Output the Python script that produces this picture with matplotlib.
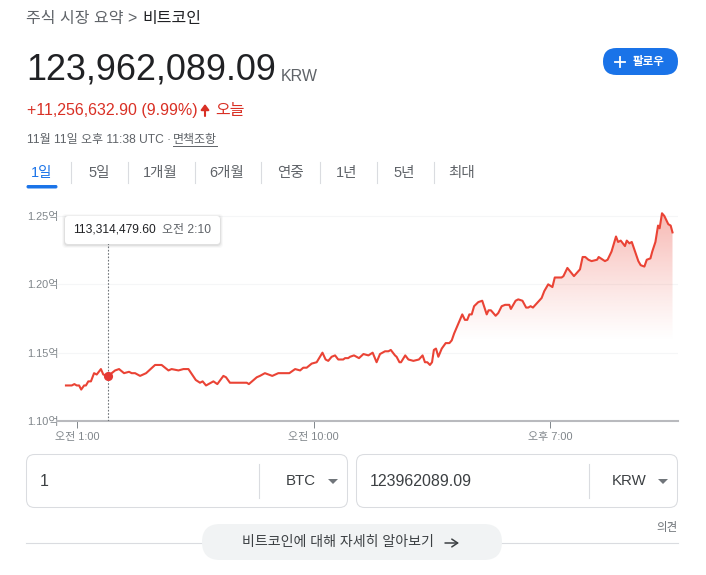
import numpy as np
import matplotlib
matplotlib.use("Agg")
import matplotlib.pyplot as plt
from matplotlib.patches import FancyBboxPatch, Rectangle, Polygon, Circle

plt.rcParams['font.family'] = ['Liberation Sans', 'Noto Sans CJK KR', 'DejaVu Sans']

hours = [0.58,0.80,0.90,0.99,1.08,1.16,1.27,1.34,1.43,1.53,1.65,1.75,1.91,2.00,2.17,2.32,2.45,2.60,2.79,2.98,
3.08,3.21,3.40,3.63,3.97,4.22,4.48,4.60,4.86,5.05,5.24,5.52,5.68,5.78,5.91,6.19,6.34,6.57,6.67,6.82,
6.95,7.46,7.54,7.84,7.96,8.15,8.43,8.66,8.79,9.08,9.30,9.49,9.61,9.74,9.93,10.12,10.34,10.46,10.56,10.69,
10.82,10.94,11.13,11.20,11.32,11.39,11.54,11.73,11.90,12.09,12.25,12.40,12.53,12.72,12.85,12.94,13.10,13.16,13.27,13.33,
13.49,13.61,13.80,14.01,14.15,14.24,14.33,14.43,14.51,14.58,14.66,14.75,14.88,15.03,15.17,15.26,15.35,15.66,15.76,15.85,
15.93,16.02,16.11,16.27,16.42,16.59,16.66,16.75,16.93,17.03,17.16,17.29,17.45,17.51,17.69,17.79,17.95,18.09,18.17,18.26,
18.35,18.68,18.78,18.93,19.09,19.18,19.44,19.51,19.66,19.91,20.14,20.24,20.34,20.46,20.58,20.79,20.85,21.09,21.19,21.34,
21.51,21.59,21.69,21.85,21.92,22.02,22.11,22.36,22.45,22.59,22.68,22.82,22.89,23.01,23.11,23.17,23.26,23.35,23.50,23.59,23.66]
prices = [1.126,1.126,1.127,1.126,1.126,1.123,1.126,1.126,1.129,1.129,1.135,1.134,1.138,1.134,1.133,1.135,1.137,1.138,1.135,1.136,
1.135,1.135,1.133,1.135,1.141,1.141,1.137,1.138,1.137,1.138,1.138,1.130,1.128,1.129,1.126,1.129,1.127,1.133,1.132,1.128,
1.128,1.128,1.127,1.132,1.133,1.135,1.133,1.135,1.135,1.135,1.138,1.137,1.139,1.139,1.142,1.143,1.150,1.145,1.144,1.147,
1.148,1.145,1.145,1.146,1.146,1.147,1.148,1.146,1.149,1.148,1.150,1.143,1.149,1.151,1.151,1.152,1.148,1.147,1.143,1.143,
1.148,1.145,1.144,1.145,1.148,1.143,1.143,1.141,1.143,1.152,1.153,1.147,1.153,1.157,1.157,1.159,1.164,1.178,1.174,1.174,
1.178,1.178,1.184,1.187,1.188,1.178,1.181,1.181,1.177,1.179,1.184,1.185,1.185,1.182,1.188,1.189,1.188,1.183,1.183,1.184,
1.183,1.190,1.195,1.200,1.198,1.205,1.205,1.206,1.212,1.206,1.211,1.220,1.220,1.218,1.217,1.218,1.220,1.217,1.218,1.224,
1.235,1.231,1.232,1.228,1.232,1.230,1.231,1.217,1.214,1.213,1.218,1.219,1.224,1.231,1.243,1.241,1.252,1.250,1.244,1.243,1.238]
y_ticks = [1.10, 1.15, 1.20, 1.25]
y_labels = ["1.10억", "1.15억", "1.20억", "1.25억"]
x_ticks = [1, 10, 19]
x_labels = ["오전 1:00", "오전 10:00", "오후 7:00"]
hover_hour, hover_price = 2.17, 1.133
tabs = ["1일", "5일", "1개월", "6개월", "연중", "1년", "5년", "최대"]

W, H = 706, 575
RED = "#ea4335"
GREY = "#5f6368"
AXIS = "#80868b"
fig = plt.figure(figsize=(W / 100, H / 100), dpi=100, facecolor="white")

def px(s):
    return s * 0.72

# chart axes: px x 26..678, y 205..421
ax = fig.add_axes([26 / W, 1 - 421 / H, 652 / W, 216 / H])
ax.set_xlim(1 + (26 - 77) / 26.28, 1 + (678 - 77) / 26.28)
ax.set_ylim(1.10, 1.25 + 11 / 1366.7)
for s in ax.spines.values():
    s.set_visible(False)
ax.patch.set_alpha(0)
frac = (57 - 26) / 652
for y in y_ticks[1:]:
    ax.axhline(y, xmin=frac, color="#f5f6f7", lw=0.8, zorder=1)
ax.axhline(1.10, xmin=frac, color="#b9babe", lw=1.5, zorder=3, clip_on=False)

# area gradient under the line
grad = np.zeros((256, 2, 4))
rgb = matplotlib.colors.to_rgb(RED)
grad[..., 0], grad[..., 1], grad[..., 2] = rgb
a = np.clip((np.linspace(1.253, 1.10, 256) - 1.158) / (1.253 - 1.158), 0, 1)
grad[..., 3] = (a[:, None] ** 1.15) * 0.38
im = ax.imshow(grad, extent=[hours[0], hours[-1], 1.10, 1.253], aspect="auto", zorder=2, interpolation="bilinear")
poly = Polygon(list(zip(hours, prices)) + [(hours[-1], 1.10), (hours[0], 1.10)], closed=True,
               transform=ax.transData, fc="none", ec="none")
ax.add_patch(poly)
im.set_clip_path(poly)
ax.set_xlim(1 + (26 - 77) / 26.28, 1 + (678 - 77) / 26.28)
ax.set_ylim(1.10, 1.25 + 11 / 1366.7)

ax.plot(hours, prices, color=RED, lw=1.5, zorder=4, solid_joinstyle="round")
ax.plot([hover_hour, hover_hour], [1.10, 1.25], color="#70757a", lw=0.8, ls=(0, (1.5, 1.5)), zorder=3)
ax.plot([hover_hour], [hover_price], "o", color="#e53935", ms=6.6, mew=0, zorder=5)

ax.set_xticks(x_ticks)
ax.set_xticklabels(x_labels, fontsize=px(11), color=AXIS)
ax.tick_params(axis="x", length=5, width=0.7, color="#80868b", pad=3.2, direction="out")
ax.set_yticks(y_ticks)
ax.set_yticklabels(y_labels, fontsize=px(11), color=AXIS, ha="left")
ax.tick_params(axis="y", length=0, pad=-0.5)

# UI overlay in pixel coordinates
ui = fig.add_axes([0, 0, 1, 1], zorder=5)
ui.set_xlim(0, W)
ui.set_ylim(H, 0)
ui.axis("off")
ui.patch.set_alpha(0)

def T(x, y, s, size, color="#202124", ha="left", va="center", **kw):
    return ui.text(x, y, s, fontsize=px(size), color=color, ha=ha, va=va, **kw)

def box(x0, y0, x1, y1, r, fc="white", ec="none", lw=0.75, z=1):
    p = FancyBboxPatch((x0 + r, y0 + r), x1 - x0 - 2 * r, y1 - y0 - 2 * r,
                       boxstyle=f"round,pad={r},rounding_size={r}", fc=fc, ec=ec, lw=lw, zorder=z)
    ui.add_patch(p)
    return p

T(26, 19, "주식 시장 요약 >", 16, "#5f6368")
T(142, 19, "비트코인", 16, "#202124")
T(26.5, 69.5, "123,962,089.09", 36, "#202124")
T(281, 76.5, "KRW", 16, "#5f6368")
T(27, 110, "+11,256,632.90 (9.99%)", 16, "#d93025")
ui.annotate("", xy=(205, 104), xytext=(205, 116),
            arrowprops=dict(arrowstyle="-|>,head_width=0.24,head_length=0.32", color="#d93025", lw=1.5, shrinkA=0, shrinkB=0))
T(215, 110, "오늘", 16, "#d93025")
T(27, 139.5, "11월 11일 오후 11:38 UTC ·", 12, "#5f6368")
T(173, 139.5, "면책조항", 12, "#5f6368")
ui.plot([173, 217], [146, 146], color="#5f6368", lw=0.7)

# follow button
box(603, 48, 678, 75, 13.5, fc="#1a73e8")
ui.plot([615, 625], [61.5, 61.5], color="white", lw=1.3)
ui.plot([620, 620], [56.5, 66.5], color="white", lw=1.3)
T(633, 61.5, "팔로우", 11.5, "white", fontweight="bold")

# tabs
tab_x = [42, 99, 160, 227, 290, 347, 404, 462]
for i, (x, t) in enumerate(zip(tab_x, tabs)):
    T(x, 172.5, t, 14.5, "#1a73e8" if i == 0 else "#5f6368", ha="center")
for x in [70.5, 127.5, 194.5, 260.5, 319.5, 376.5, 433.5]:
    ui.plot([x, x], [162, 183], color="#dadce0", lw=0.8)
ui.add_patch(FancyBboxPatch((27, 185.5), 30, 2.5, boxstyle="round,pad=0,rounding_size=1.2", fc="#1a73e8", ec="#1a73e8", lw=0.7))

# tooltip
for d, al in [(3, 0.025), (2, 0.04), (1, 0.06)]:
    box(65 - d, 216 - d + 1, 220 + d, 244 + d + 1, 4, fc=(0, 0, 0, al), z=2)
box(65, 216, 220, 244, 3, fc="white", z=3)
t1 = T(73.5, 230, "113,314,479.60", 12, "#202124", zorder=4)
t2 = T(162, 230, "오전 2:10", 12, "#5f6368", zorder=4)

# converter boxes
box(26.5, 454.5, 347.5, 507.5, 8, fc="white", ec="#dadce0")
box(356.5, 454.5, 677.5, 507.5, 8, fc="white", ec="#dadce0")
T(40, 481, "1", 16, "#3c4043")
T(370, 481, "123962089.09", 16, "#3c4043")
T(286, 481, "BTC", 15, "#3c4043")
T(612, 481, "KRW", 15, "#3c4043")
for x in [258.5, 588.5]:
    ui.plot([x, x], [464, 498], color="#dadce0", lw=0.8)
for x in [333, 663]:
    ui.add_patch(Polygon([(x - 5, 479), (x + 5, 479), (x, 484)], closed=True, fc="#70757a", ec="none"))

T(678, 527, "의견", 11.5, "#70757a", ha="right")
ui.plot([26, 678], [542.5, 542.5], color="#dadce0", lw=0.8, zorder=1)
box(202, 524, 502, 560, 18, fc="#f1f3f4", z=2)
T(242, 542, "비트코인에 대해 자세히 알아보기", 14, "#3c4043", zorder=3)
ui.annotate("", xy=(459, 543), xytext=(445, 543), zorder=3,
            arrowprops=dict(arrowstyle="->,head_width=0.28,head_length=0.42", color="#3c4043", lw=1.1, shrinkA=0, shrinkB=0))

fig.savefig("out.png", dpi=100, facecolor="white")
